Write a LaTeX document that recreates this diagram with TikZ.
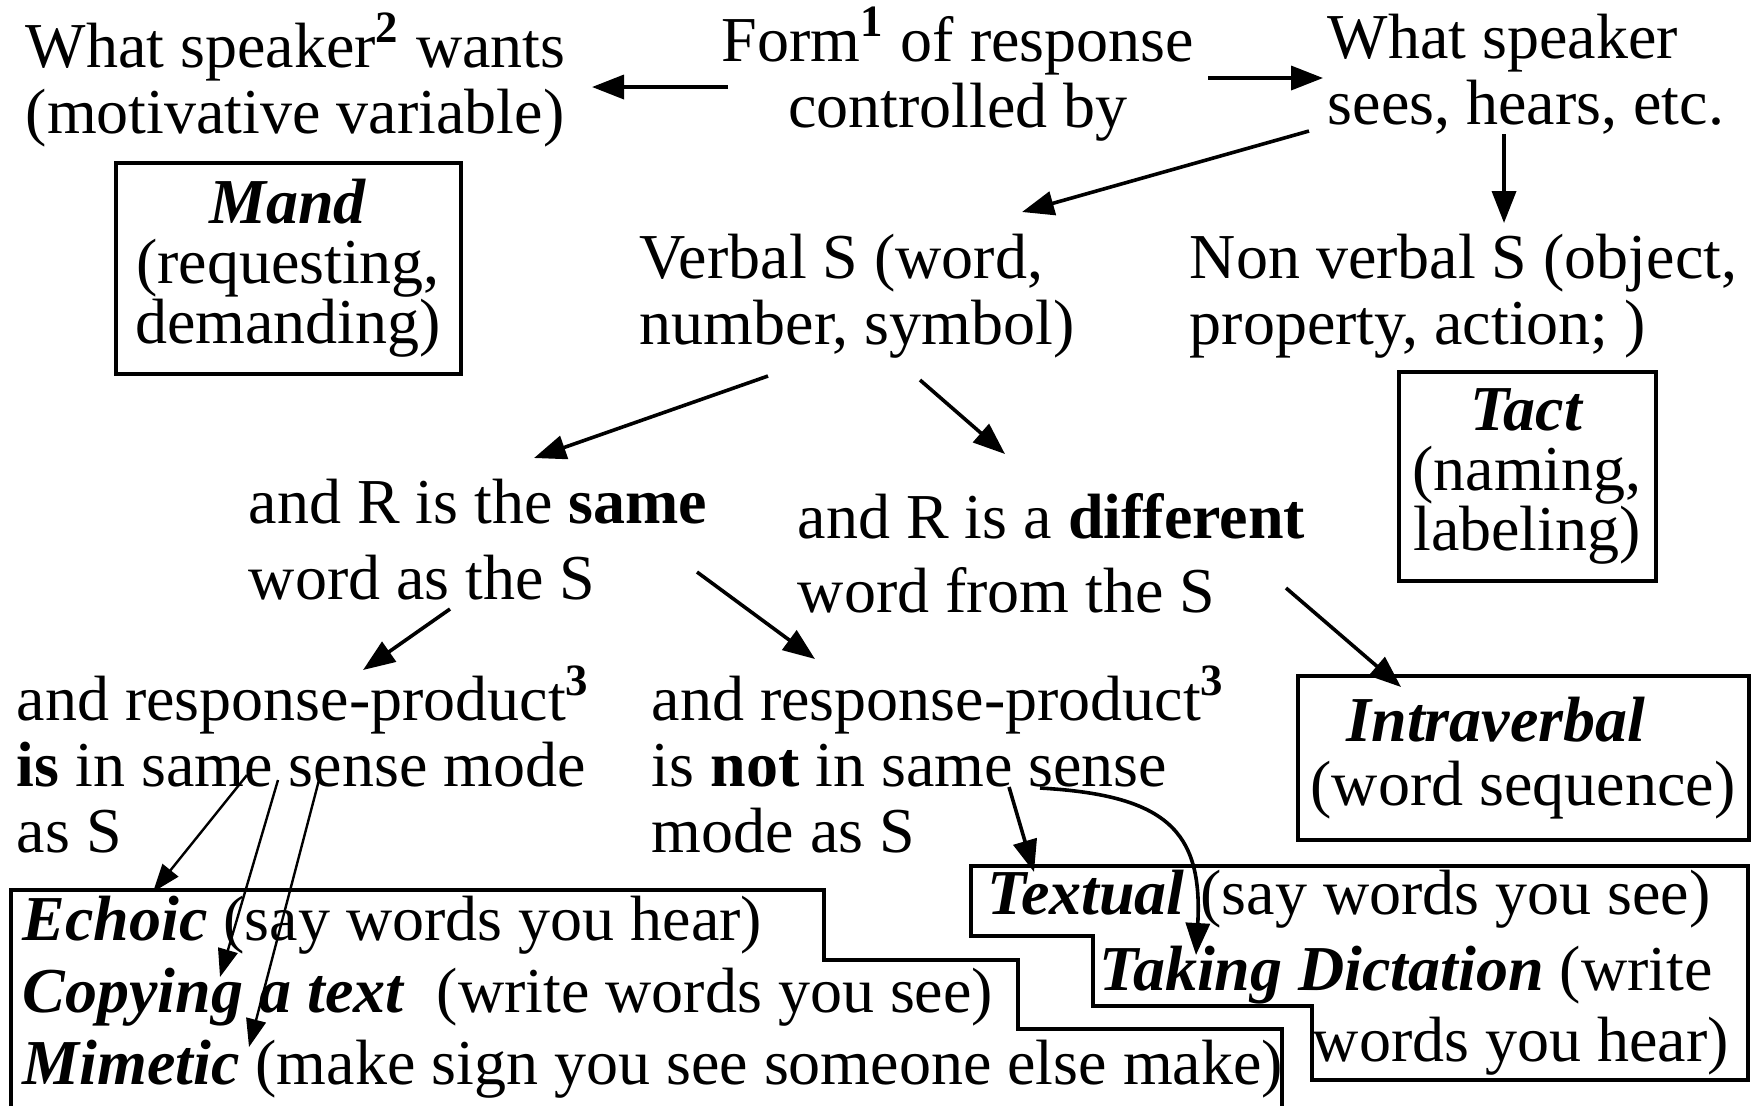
\documentclass[tikz,border=0pt]{standalone}
\usepackage{fontspec}
\setmainfont{Liberation Serif}
\usetikzlibrary{positioning,arrows.meta}

\begin{document}
\begin{tikzpicture}[
        x=0.25pt, y=-0.25pt,
        txt/.style={inner sep=0pt, align=left, anchor=west, font=\fontsize{16}{16.5}\selectfont},
        ctr/.style={inner sep=0pt, align=center, font=\fontsize{16}{16.5}\selectfont},
        box/.style={draw, line width=1pt, inner sep=0pt, align=center, font=\fontsize{16}{15}\selectfont},
        arrow/.style={-{Triangle[length=8pt,width=6pt]}, line width=0.9pt},
        thin arrow/.style={-{Triangle[length=7pt,width=5pt]}, line width=0.6pt},
        stairs/.style={line width=0.8pt}
    ]
    \useasboundingbox (0,0) rectangle (1751,1106);

    \node[txt] (want) at (25,80) {What speaker\textsuperscript{\textbf{2}} wants\\(motivative variable)};
    \node[ctr] (form) at (958,74) {Form\textsuperscript{\textbf{1}} of response\\controlled by};
    \node[txt] (sees) at (1327,74) {What speaker\\sees, hears, etc.};

    \node[box, minimum width=86.25pt, minimum height=52.75pt] (mand) at (288,268) {\textbf{\textit{Mand}}\\(requesting,\\demanding)};

    \node[txt] (verbal) at (639,296) {Verbal S (word,\\number, symbol)};
    \node[txt] (nonverbal) at (1189,296) {Non verbal S (object,\\property, action; )};

    \node[box, minimum width=64.25pt, minimum height=52.25pt] (tact) at (1527,476) {\textbf{\textit{Tact}}\\(naming,\\labeling)};

    \node[txt, font=\fontsize{16}{19}\selectfont] (same) at (248,540) {and R is the \textbf{same}\\word as the S};
    \node[txt, font=\fontsize{16}{18.5}\selectfont] (diff) at (797,553) {and R is a \textbf{different}\\word from the S};

    \node[box, align=left, minimum width=112.75pt, minimum height=41pt, font=\fontsize{16}{16}\selectfont] (intra) at (1523,758) {\hspace*{9pt}\textbf{\textit{Intraverbal}}\\(word sequence)};

    \node[txt] (insense) at (16,759) {and response-product\textsuperscript{\textbf{3}}\\\textbf{is} in same sense mode\\as S};
    \node[txt] (notsense) at (651,759) {and response-product\textsuperscript{\textbf{3}}\\is \textbf{not} in same sense\\mode as S};

    % stepped outlines of the two lower groups
    \draw[stairs] (11,1106) -- (11,890) -- (824,890) -- (824,960) -- (1018,960) -- (1018,1029) -- (1282,1029) -- (1282,1106);
    \draw[stairs] (971,866) -- (1748,866) -- (1748,1080) -- (1312,1080) -- (1312,1006) -- (1093,1006) -- (1093,936) -- (971,936) -- cycle;

    \node[txt] (echoic) at (22,925) {\textbf{\textit{Echoic}} (say words you hear)};
    \node[txt] (copying) at (22,997) {\textbf{\textit{Copying a text}}\ \ (write words you see)};
    \node[txt] (mimetic) at (22,1069) {\textbf{\textit{Mimetic}} (make sign you see someone else make)};
    \node[txt] (textual) at (987,899) {\textbf{\textit{Textual}} (say words you see)};
    \node[txt] (taking) at (1099,975) {\textbf{\textit{Taking Dictation}} (write};
    \node[txt] (hear) at (1312,1046) {words you hear)};

    \draw[arrow] ([shift={(-230,13)}]form.center) -- ([shift={(567,7)}]want.west);
    \draw[arrow] ([shift={(250,4)}]form.center) -- ([shift={(-4,4)}]sees.west);
    \draw[arrow] ([shift={(-18,57)}]sees.west) -- ([shift={(383,-84)}]verbal.west);
    \draw[arrow] ([shift={(177,60)}]sees.west) -- ([shift={(315,-73)}]nonverbal.west);
    \draw[arrow] ([shift={(129,80)}]verbal.west) -- ([shift={(286,-82)}]same.west);
    \draw[arrow] ([shift={(281,84)}]verbal.west) -- ([shift={(208,-99)}]diff.west);
    \draw[arrow] ([shift={(489,35)}]diff.west) -- ([shift={(-122,-71)}]intra.center);
    \draw[arrow] ([shift={(202,69)}]same.west) -- ([shift={(347,-89)}]insense.west);
    \draw[arrow] ([shift={(449,32)}]same.west) -- ([shift={(164,-100)}]notsense.west);
    \draw[thin arrow] ([shift={(231,16)}]insense.west) -- ([shift={(131,-33)}]echoic.west);
    \draw[thin arrow] ([shift={(262,21)}]insense.west) -- ([shift={(198,-20)}]copying.west);
    \draw[thin arrow] ([shift={(303,21)}]insense.west) -- ([shift={(227,-22)}]mimetic.west);
    \draw[arrow] ([shift={(358,28)}]notsense.west) -- ([shift={(47,-27)}]textual.west);
    \draw[arrow] ([shift={(389,29)}]notsense.west) .. controls ([shift={(514,36)}]notsense.west) and ([shift={(104,-145)}]taking.west) .. ([shift={(97,-20)}]taking.west);
\end{tikzpicture}
\end{document}
